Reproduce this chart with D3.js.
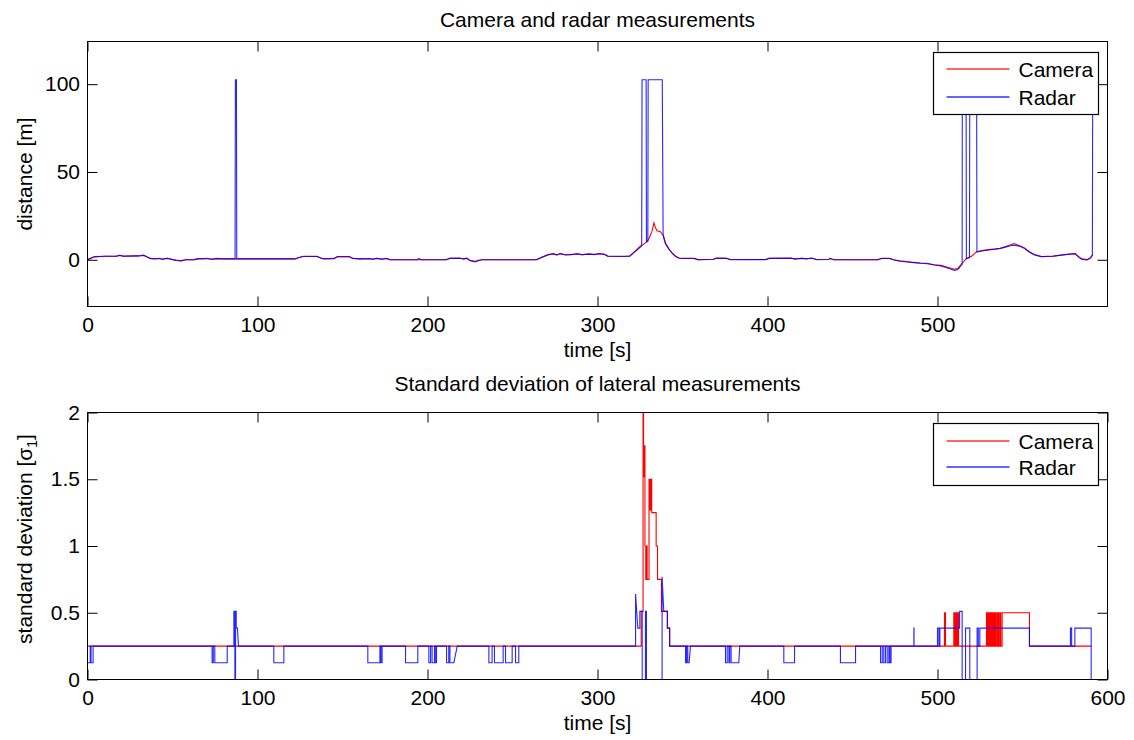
<!DOCTYPE html>
<html>
<head>
<meta charset="utf-8">
<script src="https://cdn.jsdelivr.net/npm/d3@7"></script>
<style>
  body { margin: 0; background: #fff; }
  svg { display: block; }
  text { font-family: "Liberation Sans", Arial, Helvetica, sans-serif; fill: #000; }
</style>
</head>
<body>
<svg id="chart" width="1134" height="740"></svg>
<script>
// ---- Data: [time (s), value] ----
const cameraDistance = [
  [0,0],[2,0.8],[4,1.8],[10,2],[17,2.1],[19,2.6],[21,2.1],[30,2.2],[33,2.7],[35,1.8],[37,0.8],[40,0.5],
  [42,0.9],[44,0.4],[47,0.9],[50,0.2],[52,-0.2],[55,-0.5],[58,0],[63,0.1],[65,0.7],[68,0.5],[70,0.9],[73,0.4],
  [76,0.8],[80,0.5],[100,0.5],[122,0.5],[125,1.5],[127,2],[135,2],[137,1.2],[139,0.6],[145,0.8],[147,1.8],
  [154,1.8],[156,0.9],[160,0.5],[166,0.7],[168,0.3],[170,0.9],[173,0.3],[176,0.8],[178,0],[211,0],[213,0.9],
  [219,1],[221,0.4],[223,0.9],[225,-0.3],[228,-0.8],[230,-0.3],[232,0],[264,0],[267,1.2],[271,2.8],[274,3.3],
  [276,2.6],[278,3.6],[281,2.7],[285,2.9],[288,3.5],[291,2.8],[295,3.4],[298,2.9],[301,3.5],[304,3.1],[306,2],
  [316,1.9],[319,2.2],[322,4.8],[325,7.6],[328,9.5],[330,11.5],[332,16],[333.2,21],[334,18.5],[335,16.5],
  [337,16],[338.5,14],[340,9],[342,6],[344,3.8],[346,2],[348,1],[350,0.8],[357,0.8],[359,0.1],[368,0.3],
  [370,1],[376,0.9],[378,0.2],[399,0.2],[401,0.9],[414,1],[416,0.4],[420,0.9],[423,0.5],[426,1],[429,0.2],
  [436,0.3],[437,0.8],[439,0],[465,0],[467,0.9],[472,0.8],[474,0],[478,-0.6],[482,-1],[486,-1.5],[490,-1.8],
  [494,-2],[498,-2.8],[502,-3.2],[505,-4],[508,-4.8],[510,-5.4],[512,-4.8],[514,-2.6],[517,0.8],[520,2],
  [523,4.6],[526,5.2],[530,5.8],[534,6.2],[537,6.6],[540,7.6],[543,8.6],[545,9.2],[548,8.2],[551,6.8],
  [554,4.6],[557,3],[561,1.9],[568,2.1],[574,2.9],[578,3.3],[581,3.5],[583,1.8],[585,0.5],[588,0.1],
  [590,1.2],[591.2,2.8]
];

const radarDistance = [
  [0,0.2],[2,1],[4,1.6],[10,2],[17,2],[19,2.5],[21,2],[30,2.2],[33,2.5],[35,1.6],[37,0.6],[40,0.6],
  [42,0.7],[44,0.3],[47,0.8],[50,0.1],[52,-0.4],[55,-0.6],[58,0],[63,0.1],[65,0.5],[68,0.6],[70,0.7],[73,0.2],
  [76,0.6],[80,0.5],[86.8,0.5],[87,102.5],[87.6,102.5],[87.8,0.5],[100,0.5],[122,0.5],[125,1.4],[127,1.9],
  [135,1.9],[137,1],[139,0.5],[145,0.6],[147,1.7],[154,1.7],[156,0.8],[160,0.5],[166,0.5],[168,0.4],[170,0.8],
  [173,0.4],[176,0.7],[178,0],[194,0],[195,0.8],[196,0],[211,0],[213,0.8],[219,0.9],[221,0.6],[223,0.8],
  [225,-0.6],[228,-1.2],[230,-0.5],[232,0],[264,0],[267,1.4],[271,3],[274,3.5],[276,2.9],[278,3.4],[281,2.9],
  [285,3.1],[288,3.3],[291,3],[295,3.2],[298,3.1],[301,3.4],[304,3.2],[306,2.1],[316,2],[319,2],[322,4.6],
  [326,7.8],[326.2,102.5],[328.6,102.5],[328.8,10.2],[329.6,10.4],[329.8,102.5],[338.1,102.5],[338.6,14.5],
  [340,9.5],[342,6.2],[344,3.6],[346,1.8],[348,0.9],[350,0.7],[357,0.7],[359,0],[368,0.2],[370,0.9],[376,0.8],
  [378,0],[399,0.1],[401,0.8],[414,0.9],[416,0.5],[420,0.8],[423,0.6],[426,0.9],[429,0],[436,0.2],[437,0.7],
  [439,0],[465,0],[467,0.7],[472,0.7],[474,0],[478,-0.8],[482,-1.3],[486,-1.6],[490,-2],[494,-2.3],[498,-3],
  [502,-3.5],[505,-4.4],[508,-5.4],[510,-6],[512,-5.6],[514,-3],[514.5,-2.6],[514.6,102.5],[516.8,102.5],
  [517,0.6],[518.8,1.2],[519,102.5],[523,102.5],[523.2,4.4],[526,5],[530,5.6],[534,6],[537,6.5],[540,7.2],
  [543,8],[545,8.3],[548,7.8],[551,6.5],[554,4.4],[557,2.8],[561,1.8],[568,2],[574,2.8],[578,3.2],[581,3.4],
  [583,1.6],[585,0.2],[588,-0.1],[590,1],[591.1,2.6],[591.3,102.5]
];

const cameraStd = [
  [0,0.25],[325.7,0.25],[325.7,0.51],[326.8,0.51],[326.8,2],[327.1,2],[327.1,1.52],[327.3,1.52],[327.3,1.75],
  [327.9,1.75],[327.9,1],[328.4,1],[328.4,0.75],[328.7,0.75],[328.7,1],[329.2,1],[329.2,0.75],[330.3,0.75],
  [330.3,1.5],[330.8,1.5],[330.8,1.27],[331.4,1.27],[331.4,1.5],[331.9,1.5],[331.9,1.25],[334.5,1.25],
  [334.5,1],[335.3,1],[335.3,0.75],[337.6,0.75],[337.6,0.51],[341.2,0.51],[341.2,0.385],[342.4,0.385],
  [342.4,0.25],[504.1,0.25],[504.1,0.5],[504.7,0.5],[504.7,0.25],[509.6,0.25],[509.6,0.5],[510.2,0.5],
  [510.2,0.25],[510.8,0.25],[510.8,0.5],[511.3,0.5],[511.3,0.25],[511.8,0.25],[511.8,0.5],[512.4,0.5],
  [512.4,0.25],[528.8,0.25],[528.8,0.5],[529.4,0.5],[529.4,0.25],[529.8,0.25],[529.8,0.5],[530.4,0.5],
  [530.4,0.25],[530.8,0.25],[530.8,0.5],[531.4,0.5],[531.4,0.25],[531.8,0.25],[531.8,0.5],[532.4,0.5],
  [532.4,0.25],[532.8,0.25],[532.8,0.5],[533.4,0.5],[533.4,0.25],[534,0.25],[534,0.5],[534.6,0.5],
  [534.6,0.25],[535.3,0.25],[535.3,0.5],[535.9,0.5],[535.9,0.25],[536.6,0.25],[536.6,0.5],[537.2,0.5],
  [537.2,0.25],[538,0.25],[538,0.5],[554.1,0.5],[554.1,0.25],[590.4,0.25]
];

const radarStd = [
  [0,0.125],[1.6,0.125],[1.6,0.25],[2.1,0.25],[2.1,0.125],[3.3,0.125],[3.3,0.25],
  [73.3,0.25],[73.3,0.125],[74,0.125],[74,0.25],[74.9,0.25],[74.9,0.125],[82.2,0.125],[82.2,0.25],
  [86.1,0.25],[86.1,0.51],[86.7,0.51],[86.7,0],[87.1,0],[87.1,0.51],[87.5,0.51],[87.5,0.385],[88.2,0.385],
  [88.8,0.25],[109.6,0.25],[109.6,0.125],[115.5,0.125],[115.5,0.25],
  [164.9,0.25],[164.9,0.125],[172,0.125],[172,0.25],[172.6,0.25],[172.6,0.125],[173.3,0.125],[173.3,0.25],
  [187.1,0.25],[187.1,0.125],[194.3,0.125],[194.3,0.25],
  [200.8,0.25],[200.8,0.125],[201.8,0.125],[201.8,0.25],[202.7,0.25],[202.7,0.125],[204.1,0.125],[204.1,0.25],
  [204.6,0.25],[204.6,0.125],[205.3,0.125],[205.3,0.25],
  [211.2,0.25],[211.2,0.125],[212.5,0.125],[212.5,0.25],[213.2,0.25],[213.2,0.125],[215.5,0.125],[217.5,0.25],
  [236.1,0.25],[236.1,0.125],[238,0.125],[238,0.25],[239.4,0.25],[239.4,0.125],[244.5,0.125],[244.5,0.25],
  [245.9,0.25],[245.9,0.125],[249.8,0.125],[249.8,0.25],[251.8,0.25],[251.8,0.125],[253.7,0.125],[253.7,0.25],
  [322.4,0.25],[322.4,0.64],[323.7,0.385],[324.9,0.385],[324.9,0.51],[326.3,0.51],[326.3,0],[328.2,0],
  [328.2,0.51],[328.8,0.51],[328.8,0],[338,0],[338,0.77],[339,0.51],[341,0.51],[341,0.385],[342.5,0.385],
  [342.5,0.25],
  [351.8,0.25],[351.8,0.125],[352.4,0.125],[352.4,0.25],[353.1,0.25],[353.1,0.125],[353.9,0.125],[354.7,0.25],
  [375.3,0.25],[375.3,0.125],[376.3,0.125],[376.3,0.25],[377.3,0.25],[377.3,0.125],[377.8,0.125],[377.8,0.25],
  [378.6,0.25],[378.6,0.125],[383.1,0.125],[383.7,0.25],
  [409.6,0.25],[409.6,0.125],[415.9,0.125],[415.9,0.25],
  [442.9,0.25],[442.9,0.125],[451.8,0.125],[451.8,0.25],
  [466.5,0.25],[466.5,0.125],[467.5,0.125],[467.5,0.25],[468.4,0.25],[468.4,0.125],[469.4,0.125],[469.4,0.25],
  [470.4,0.25],[470.4,0.125],[471.4,0.125],[471.4,0.25],[472,0.25],[472,0.125],[472.7,0.125],[472.7,0.25],
  [486.1,0.25],[486.1,0.385],[486.2,0.385],[486.2,0.25],
  [500,0.25],[500,0.385],[500.8,0.385],[500.8,0.25],[501.4,0.25],[501.4,0.385],[513,0.385],[513,0.51],
  [514.5,0.51],[514.5,0],[516.5,0],[516.5,0.385],[519,0.385],[519,0],[523.3,0],[523.3,0.385],[524,0.385],
  [524,0.25],[524.9,0.25],[524.9,0.385],[554.1,0.385],[554.1,0.25],[578.2,0.25],[578.2,0.385],[578.9,0.385],
  [578.9,0.25],[580.8,0.25],[580.8,0.385],[590.4,0.385],[590.4,0]
];

const seriesNames = ["Camera", "Radar"];
const seriesColors = ["#ff0000", "#0000ff"];

const timeTicksTop = [0, 100, 200, 300, 400, 500];
const timeTicksBottom = [0, 100, 200, 300, 400, 500, 600];
const distanceTicks = [0, 50, 100];
const stdTicks = [0, 0.5, 1, 1.5, 2];

// ---- Layout ----
const svg = d3.select("#chart");
const FONT = 21;
const plotLeft = 87.5, plotRight = 1107.5;

function drawPanel(cfg) {
  const { top, bottom, xDomain, xTicks, yDomain, yTicks, yFormat, series, title, titleY,
          xLabelY, yLabel, yLabelY, legendTop, legendRows, id } = cfg;

  const x = d3.scaleLinear().domain(xDomain).range([plotLeft, plotRight]);
  const y = d3.scaleLinear().domain(yDomain).range([bottom, top]);

  const g = svg.append("g");

  // clip for the data lines
  svg.append("clipPath").attr("id", id)
    .append("rect").attr("x", plotLeft).attr("y", top)
    .attr("width", plotRight - plotLeft).attr("height", bottom - top);

  // series lines (radar drawn last, on top)
  const line = d3.line().x(d => x(d[0])).y(d => y(d[1]));
  const lines = g.append("g").attr("clip-path", `url(#${id})`);
  series.forEach((s, i) => {
    lines.append("path")
      .datum(s)
      .attr("fill", "none")
      .attr("stroke", seriesColors[i])
      .attr("stroke-width", 1.1)
      .attr("stroke-opacity", i === 1 ? 0.85 : 1)
      .attr("d", line);
  });

  // axes with inward ticks on all four sides
  const tickLen = 10;
  const xAxisB = d3.axisBottom(x).tickValues(xTicks).tickSizeInner(-tickLen).tickSizeOuter(0)
    .tickPadding(11).tickFormat(d3.format("d"));
  const xAxisT = d3.axisTop(x).tickValues(xTicks).tickSizeInner(-tickLen).tickSizeOuter(0).tickFormat("");
  const yAxisL = d3.axisLeft(y).tickValues(yTicks).tickSizeInner(-tickLen).tickSizeOuter(0)
    .tickPadding(7.5).tickFormat(yFormat);
  const yAxisR = d3.axisRight(y).tickValues(yTicks).tickSizeInner(-tickLen).tickSizeOuter(0).tickFormat("");

  const styleAxis = sel => {
    sel.select(".domain").remove();
    sel.selectAll("line").attr("stroke", "#000").attr("stroke-width", 1);
    sel.selectAll("text").attr("font-size", FONT).attr("fill", "#000");
    sel.attr("font-family", null).attr("font-size", null);
  };

  g.append("g").attr("transform", `translate(0,${bottom})`).call(xAxisB).call(styleAxis);
  g.append("g").attr("transform", `translate(0,${top})`).call(xAxisT).call(styleAxis);
  g.append("g").attr("transform", `translate(${plotLeft},0)`).call(yAxisL).call(styleAxis);
  g.append("g").attr("transform", `translate(${plotRight},0)`).call(yAxisR).call(styleAxis);

  // frame
  g.append("rect")
    .attr("x", plotLeft).attr("y", top)
    .attr("width", plotRight - plotLeft).attr("height", bottom - top)
    .attr("fill", "none").attr("stroke", "#000").attr("stroke-width", 1);

  // title and axis labels
  const cx = (plotLeft + plotRight) / 2;
  g.append("text").attr("x", cx).attr("y", titleY).attr("text-anchor", "middle")
    .attr("font-size", FONT).text(title);
  g.append("text").attr("x", cx).attr("y", xLabelY).attr("text-anchor", "middle")
    .attr("font-size", FONT).text("time [s]");
  const yl = g.append("text")
    .attr("transform", `translate(32,${yLabelY}) rotate(-90)`)
    .attr("text-anchor", "middle").attr("font-size", FONT);
  yLabel(yl);

  // legend
  const lg = g.append("g");
  const lx = 933.5, lw = 165, lh = 62;
  lg.append("rect").attr("x", lx).attr("y", legendTop).attr("width", lw).attr("height", lh)
    .attr("fill", "#fff").attr("stroke", "#000").attr("stroke-width", 1.2);
  seriesNames.forEach((name, i) => {
    const ly = legendRows[i];
    lg.append("line").attr("x1", lx + 13).attr("x2", lx + 76).attr("y1", ly).attr("y2", ly)
      .attr("stroke", seriesColors[i]).attr("stroke-width", 1.4)
      .attr("stroke-opacity", 0.8);
    lg.append("text").attr("x", lx + 85).attr("y", ly + 7.5).attr("font-size", FONT).text(name);
  });
}

drawPanel({
  id: "clip-top",
  top: 41.5, bottom: 306.5,
  xDomain: [0, 600], xTicks: timeTicksTop,
  yDomain: [-26.6, 124.3], yTicks: distanceTicks, yFormat: d3.format("d"),
  series: [cameraDistance, radarDistance],
  title: "Camera and radar measurements", titleY: 26.5,
  xLabelY: 356.5,
  yLabel: t => t.text("distance [m]"), yLabelY: 174,
  legendTop: 52.5, legendRows: [69, 97]
});

drawPanel({
  id: "clip-bottom",
  top: 412.5, bottom: 679.5,
  xDomain: [0, 600], xTicks: timeTicksBottom,
  yDomain: [0, 2], yTicks: stdTicks, yFormat: d => String(d),
  series: [cameraStd, radarStd],
  title: "Standard deviation of lateral measurements", titleY: 390.5,
  xLabelY: 729.5,
  yLabel: t => {
    t.append("tspan").text("standard deviation [σ");
    t.append("tspan").attr("font-size", 14).attr("dy", 5).text("1");
    t.append("tspan").attr("dy", -5).text("]");
  },
  yLabelY: 539,
  legendTop: 423.5, legendRows: [441, 467]
});
</script>
</body>
</html>
